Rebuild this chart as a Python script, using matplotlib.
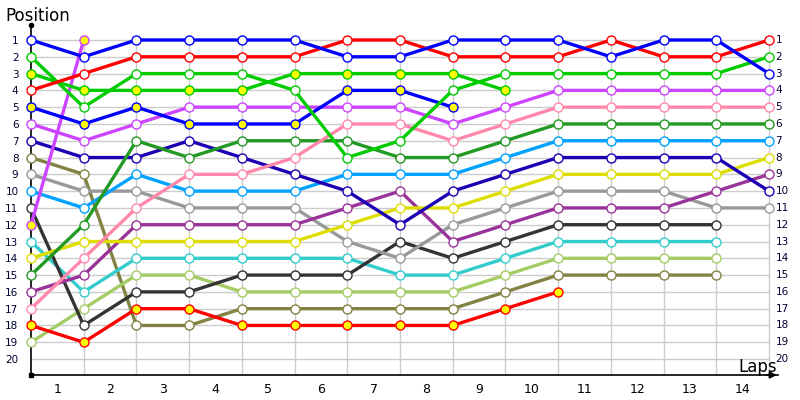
import matplotlib.pyplot as plt

# position of each car after every lap (index 0 = start), shorter list = retired
blue_a = [1, 2, 1, 1, 1, 1, 2, 2, 1, 1, 1, 2, 1, 1, 3]
red_a = [4, 3, 2, 2, 2, 2, 1, 1, 2, 2, 2, 1, 2, 2, 1]
green_a = [2, 5, 3, 3, 3, 4, 8, 7, 4, 3, 3, 3, 3, 3, 2]
violet_a = [6, 7, 6, 5, 5, 5, 5, 5, 6, 5, 4, 4, 4, 4, 4]
pink = [17, 14, 11, 9, 9, 8, 6, 6, 7, 6, 5, 5, 5, 5, 5]
dark_green = [15, 12, 7, 8, 7, 7, 7, 8, 8, 7, 6, 6, 6, 6, 6]
light_blue = [10, 11, 9, 10, 10, 10, 9, 9, 9, 8, 7, 7, 7, 7, 7]
yellow = [14, 13, 13, 13, 13, 13, 12, 11, 11, 10, 9, 9, 9, 9, 8]
plum = [16, 15, 12, 12, 12, 12, 11, 10, 13, 12, 11, 11, 11, 10, 9]
navy = [7, 8, 8, 7, 8, 9, 10, 12, 10, 9, 8, 8, 8, 8, 10]
gray = [9, 10, 10, 11, 11, 11, 13, 14, 12, 11, 10, 10, 10, 11, 11]
black = [11, 18, 16, 16, 15, 15, 15, 13, 14, 13, 12, 12, 12, 12]
cyan = [13, 16, 14, 14, 14, 14, 14, 15, 15, 14, 13, 13, 13, 13]
light_green = [19, 17, 15, 15, 16, 16, 16, 16, 16, 15, 14, 14, 14, 14]
olive = [8, 9, 18, 18, 17, 17, 17, 17, 17, 16, 15, 15, 15, 15]
red_b = [18, 19, 17, 17, 18, 18, 18, 18, 18, 17, 16]
green_b = [3, 4, 4, 4, 4, 3, 3, 3, 3, 4]
blue_b = [5, 6, 5, 6, 6, 6, 4, 4, 5]
violet_b = [12, 1]

laps = list(range(1, 15))
positions = list(range(1, 21))

series = [
    (olive, '#828242', 'white'),
    (light_green, '#a4cc64', 'white'),
    (cyan, '#33cccc', 'white'),
    (black, '#333333', 'white'),
    (gray, '#999999', 'white'),
    (plum, '#993399', 'white'),
    (yellow, '#dddd00', 'white'),
    (light_blue, '#00a2ff', 'white'),
    (navy, '#1e00b4', 'white'),
    (dark_green, '#229922', 'white'),
    (pink, '#ff88aa', 'white'),
    (red_b, '#ff0000', '#ffff00'),
    (violet_b, '#cc44ff', '#ffff00'),
    (violet_a, '#cc44ff', 'white'),
    (blue_b, '#0000ff', '#ffff00'),
    (green_b, '#00cc00', '#ffff00'),
    (green_a, '#00cc00', 'white'),
    (red_a, '#ff0000', 'white'),
    (blue_a, '#0000ff', 'white'),
]

fig = plt.figure(figsize=(8, 4), dpi=100)
ax = fig.add_axes([31 / 800, 25 / 400, 747 / 800, 350 / 400])
ax.set_xlim(0, 14.17)
ax.set_ylim(20.95, 0.107)

# grid
ax.hlines(positions, 0, 14, color='#cccccc', lw=1, zorder=1)
ax.vlines(range(1, 15), 1, 20.95, color='#cccccc', lw=1, zorder=1)

for pos, col, face in series:
    ax.plot(range(len(pos)), pos, color=col, lw=2.4, marker='o', ms=6.5,
            mfc=face, mec=col, mew=1.0, zorder=3, clip_on=False)

for s in ['top', 'right']:
    ax.spines[s].set_visible(False)
ax.spines['left'].set_linewidth(1.2)
ax.spines['bottom'].set_linewidth(1.2)

ax.set_yticks(positions)
ax.set_yticklabels([str(p) for p in positions], fontsize=7.5, color='#000033')
ax.set_xticks([l - 0.5 for l in laps])
ax.set_xticklabels([str(l) for l in laps], fontsize=9)
ax.tick_params(axis='both', length=0)
ax.tick_params(axis='y', pad=9)
ax.tick_params(axis='x', pad=6)

for p in positions:
    ax.text(14.12, p, str(p), fontsize=7.5, va='center', ha='left', color='#000033')

# axis ends
ax.plot(0, 0.107, 'ko', ms=3, clip_on=False)
ax.plot(0, 20.95, 'ks', ms=2.5, clip_on=False)
ax.annotate('', xy=(14.2, 20.95), xytext=(13.9, 20.95),
            arrowprops=dict(arrowstyle='-|>', color='black', lw=1.2),
            annotation_clip=False)

fig.text(5 / 800, 1 - 16 / 400, 'Position', fontsize=12, va='center', ha='left')
ax.text(14.15, 20.45, 'Laps', fontsize=12, va='center', ha='right')

plt.savefig('out.png', dpi=100)
